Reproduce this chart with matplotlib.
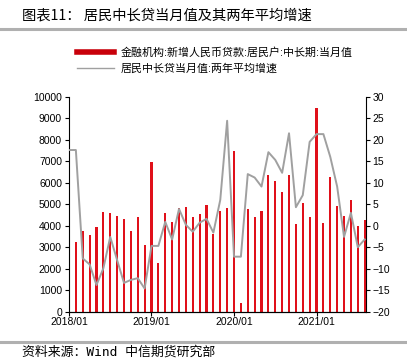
import matplotlib

matplotlib.use("Agg")
import matplotlib.pyplot as plt
import numpy as np
from matplotlib.lines import Line2D

plt.rcParams["font.family"] = ["Liberation Sans", "Noto Sans CJK SC", "DejaVu Sans"]

# monthly data, 2018/01 .. 2021/08
months = [f"{y}/{m:02d}" for y in range(2018, 2022) for m in range(1, 13)][:44]
loans = [
    6000, 3225, 3770, 3550, 3940, 4640, 4590, 4430, 4310, 3740, 4400, 3100,
    6980, 2250, 4600, 4190, 4820, 4850, 4420, 4540, 4950, 3610, 4700, 4840,
    7490, 390, 4760, 4400, 4670, 6340, 6080, 5580, 6360, 4080, 5050, 4420,
    9460, 4120, 6250, 4930, 4450, 5180, 3990, 4260,
]
growth = [
    17.6, 17.6, -7.6, -9.0, -13.8, -9.9, -2.6, -8.0, -13.3, -12.6, -12.2, -14.6,
    -4.7, -4.7, 0.9, -3.2, 3.9, 0.2, -1.4, 0.7, 1.6, -1.6, 6.0, 24.4,
    -7.2, -7.2, 12.0, 11.2, 9.1, 17.1, 15.3, 12.3, 21.5, 4.3, 7.1, 19.5,
    21.3, 21.3, 16.0, 9.1, -2.6, 3.0, -5.0, -3.2,
]
year_ticks = ["2018/01", "2019/01", "2020/01", "2021/01"]

bar_label = "金融机构:新增人民币贷款:居民户:中长期:当月值"
line_label = "居民中长贷当月值:两年平均增速"
red = "#E0101A"
grey = "#A0A0A0"

fig = plt.figure(figsize=(4.07, 3.58), dpi=100)
ax = fig.add_axes([0.1695, 0.1293, 0.729, 0.6006])
ax2 = ax.twinx()

x = np.arange(len(months))
ax.bar(x, loans, width=0.3, color=red, zorder=2)
ax2.plot(x, growth, color=grey, lw=1.4, zorder=3)

ax.set_xlim(0, 43.15)
ax.set_ylim(0, 10000)
ax.set_yticks(np.arange(0, 10001, 1000))
ax2.set_ylim(-20, 30)
ax2.set_yticks(np.arange(-20, 31, 5))
ax.set_xticks([months.index(t) for t in year_ticks])
ax.set_xticklabels(year_ticks)

for a in (ax, ax2):
    a.spines["top"].set_visible(False)
    a.tick_params(labelsize=7.5, length=3, width=0.8, pad=2)
ax.spines["right"].set_visible(False)
ax2.spines["left"].set_visible(False)
ax.tick_params(axis="x", length=3, pad=1)

handles = [
    Line2D([], [], color="#C8000A", lw=4),
    Line2D([], [], color=grey, lw=1),
]
fig.legend(handles, [bar_label, line_label], loc="upper left",
           bbox_to_anchor=(0.165, 0.895), frameon=False, fontsize=7.9,
           handlelength=3.4, handletextpad=0.6, labelspacing=0.45)

fig.text(0.054, 0.957, "图表11： 居民中长贷当月值及其两年平均增速",
         fontsize=10.3, va="center", family=["Noto Sans CJK SC"])
fig.add_artist(Line2D([0, 1], [0.92, 0.92], color="#B0B0B0", lw=2.2))
fig.add_artist(Line2D([0, 1], [0.046, 0.046], color="#B0B0B0", lw=2.2))
fig.text(0.054, 0.017, "资料来源：Wind 中信期货研究部",
         fontsize=9.3, va="center",
         family=["DejaVu Sans Mono", "Noto Sans CJK SC"])

fig.savefig("out.png", dpi=100)
